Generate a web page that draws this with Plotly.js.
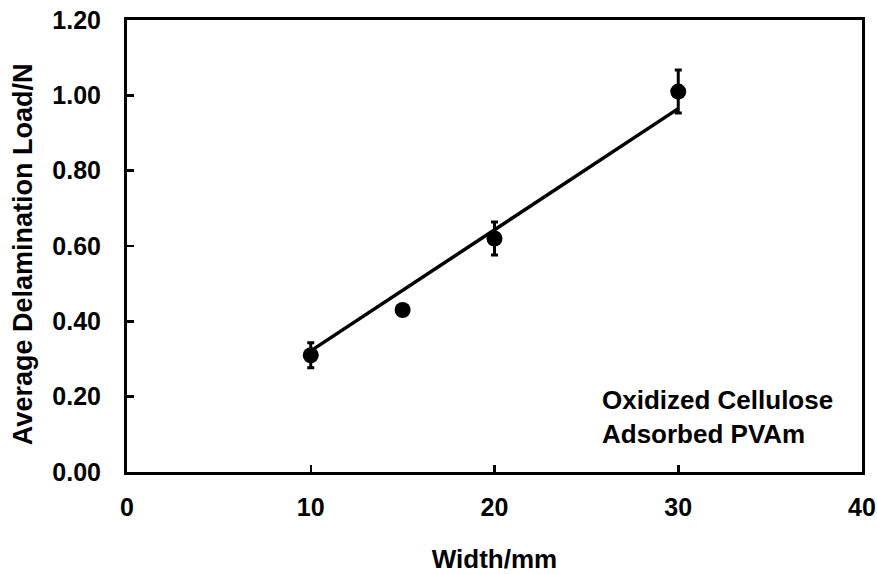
<!DOCTYPE html>
<html>
<head>
<meta charset="utf-8">
<script src="https://cdn.plot.ly/plotly-3.0.1.min.js"></script>
<style>html,body{margin:0;padding:0;background:#fff;}#chart{width:877px;height:574px;}</style>
</head>
<body>
<div id="chart"></div>
<script>
// Sample widths (mm) and measured average delamination loads (N)
const widths = [10, 15, 20, 30];
const loads = [0.31, 0.43, 0.62, 1.01];
const loadErrors = [0.033, 0.01, 0.044, 0.057];

// Linear fit through the origin: load = k * width
let sxy = 0, sxx = 0;
for (let i = 0; i < widths.length; i++) { sxy += widths[i] * loads[i]; sxx += widths[i] * widths[i]; }
const slope = sxy / sxx;
const fitX = [Math.min(...widths), Math.max(...widths)];
const fitY = fitX.map(w => slope * w);

const family = 'Liberation Sans, Arial, sans-serif';
const tickFont = {family: family, size: 25, color: '#000', weight: 'bold'};

const data = [
  {x: fitX, y: fitY, mode: 'lines', line: {color: '#000', width: 3.5}, hoverinfo: 'skip', showlegend: false},
  {x: widths, y: loads, mode: 'markers', showlegend: false,
   marker: {color: '#000', size: 16, symbol: 'circle'},
   error_y: {type: 'data', array: loadErrors, visible: true, color: '#000', thickness: 3, width: 3.5}}
];

const layout = {
  width: 877, height: 574,
  margin: {l: 127, r: 15, t: 20, b: 102},
  paper_bgcolor: '#fff', plot_bgcolor: '#fff',
  font: {family: family, color: '#000'},
  xaxis: {
    range: [0, 40], dtick: 10, tick0: 0, showgrid: false, zeroline: false,
    ticks: 'inside', ticklen: 7, tickwidth: 2.5, tickcolor: '#000',
    showline: true, linecolor: '#000', linewidth: 3, mirror: true,
    tickfont: tickFont, ticklabelstandoff: 11,
    title: {text: '<b>Width/mm</b>', font: {family: family, size: 26, color: '#000'}, standoff: 30}
  },
  yaxis: {
    range: [0, 1.2], dtick: 0.2, tick0: 0, tickformat: '.2f', showgrid: false, zeroline: false,
    ticks: 'inside', ticklen: 7, tickwidth: 2.5, tickcolor: '#000',
    showline: true, linecolor: '#000', linewidth: 3, mirror: true,
    tickfont: tickFont, ticklabelstandoff: 18
  },
  annotations: [
    {
      // y-axis title
      text: '<b>Average Delamination Load/N</b>', textangle: -90,
      xref: 'paper', yref: 'paper', x: -0.1415, y: 0.482, xanchor: 'center', yanchor: 'middle',
      showarrow: false, font: {family: family, size: 27, color: '#000'}
    },
    {
      text: '<b>Oxidized Cellulose<br>Adsorbed PVAm</b>',
      xref: 'paper', yref: 'paper', x: 0.644, y: 0.122, xanchor: 'left', yanchor: 'middle',
      align: 'left', showarrow: false,
      font: {family: family, size: 26, color: '#000'}
    }
  ]
};

Plotly.newPlot('chart', data, layout, {displayModeBar: false, staticPlot: true});
</script>
</body>
</html>
